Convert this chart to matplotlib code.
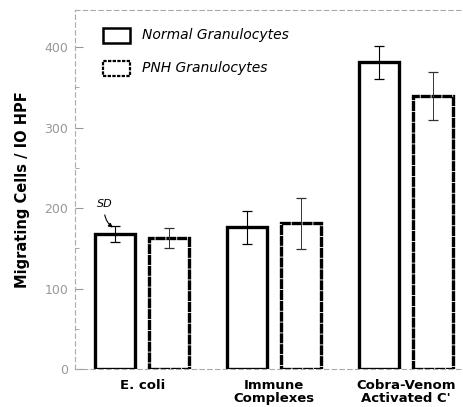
import numpy as np
import matplotlib
matplotlib.use("Agg")
import matplotlib.pyplot as plt
from matplotlib.patches import Rectangle

# ==== DATA ====
groups = ["E. coli", "Immune\nComplexes", "Cobra-Venom\nActivated C'"]
normal = [168, 176, 381]
normal_sd = [10, 20, 20]
pnh = [163, 181, 339]
pnh_sd = [12, 32, 30]
yticks = [0, 100, 200, 300, 400]
ytick_labels = ["0", "100", "200", "300", "400"]

# ==== FIGURE ====
fig = plt.figure(figsize=(4.64, 4.07), dpi=100)
ax = fig.add_axes([0.162, 0.093, 0.833, 0.882])

x = np.arange(len(groups))
w = 0.30
off = 0.205

ax.bar(x - off, normal, w, color="white", edgecolor="black", linewidth=2.4,
       zorder=2)
ax.bar(x + off, pnh, w, color="white", edgecolor="black", linewidth=2.4,
       linestyle=(0, (3.0, 0.25)), zorder=2)
ax.errorbar(x - off, normal, yerr=normal_sd, fmt="none", ecolor="black",
            elinewidth=0.8, capsize=3.5, capthick=0.9, zorder=3)
ax.errorbar(x + off, pnh, yerr=pnh_sd, fmt="none", ecolor="#333333",
            elinewidth=0.7, capsize=3.5, capthick=0.9, zorder=3)

ax.set_xlim(-0.508, 2.424)
ax.set_ylim(0, 446)

# axes styling: faint dashed frame
for side in ["left", "top", "bottom"]:
    ax.spines[side].set_linestyle((0, (4, 3)))
    ax.spines[side].set_color("#aaaaaa")
    ax.spines[side].set_linewidth(0.8)
ax.spines["right"].set_visible(False)

ax.set_yticks(yticks)
ax.set_yticklabels(ytick_labels)
ax.set_yticks([50, 150, 250, 350], minor=True)
ax.tick_params(axis="y", which="major", direction="in", length=6,
               color="#999999", labelcolor="#999999", labelsize=9, pad=5)
ax.tick_params(axis="y", which="minor", direction="in", length=3,
               color="#999999")
ax.set_xticks(x)
ax.set_xticklabels(groups, fontsize=9.5, fontweight="bold", linespacing=1.05)
ax.tick_params(axis="x", length=0, pad=7)

ax.set_ylabel("Migrating Cells / IO HPF", fontsize=10.5, fontweight="bold",
              labelpad=10)

# legend drawn as boxes + italic text
ax.add_patch(Rectangle((0.072, 0.909), 0.070, 0.042, transform=ax.transAxes,
                       facecolor="white", edgecolor="black", linewidth=1.8,
                       clip_on=False))
ax.add_patch(Rectangle((0.072, 0.817), 0.070, 0.042, transform=ax.transAxes,
                       facecolor="white", edgecolor="black", linewidth=1.6,
                       linestyle=(0, (1.5, 0.6)), clip_on=False))
ax.text(0.173, 0.930, "Normal Granulocytes", transform=ax.transAxes,
        fontsize=10, style="italic", va="center")
ax.text(0.173, 0.838, "PNH Granulocytes", transform=ax.transAxes,
        fontsize=10, style="italic", va="center")

# SD annotation
ax.annotate("SD", xy=(x[0] - off, normal[0] + normal_sd[0] - 4),
            xytext=(-0.34, 201), fontsize=8, style="italic",
            arrowprops=dict(arrowstyle="-|>", color="black", lw=0.8,
                            connectionstyle="arc3,rad=0.35",
                            mutation_scale=6))

fig.savefig("out.png", dpi=100)
